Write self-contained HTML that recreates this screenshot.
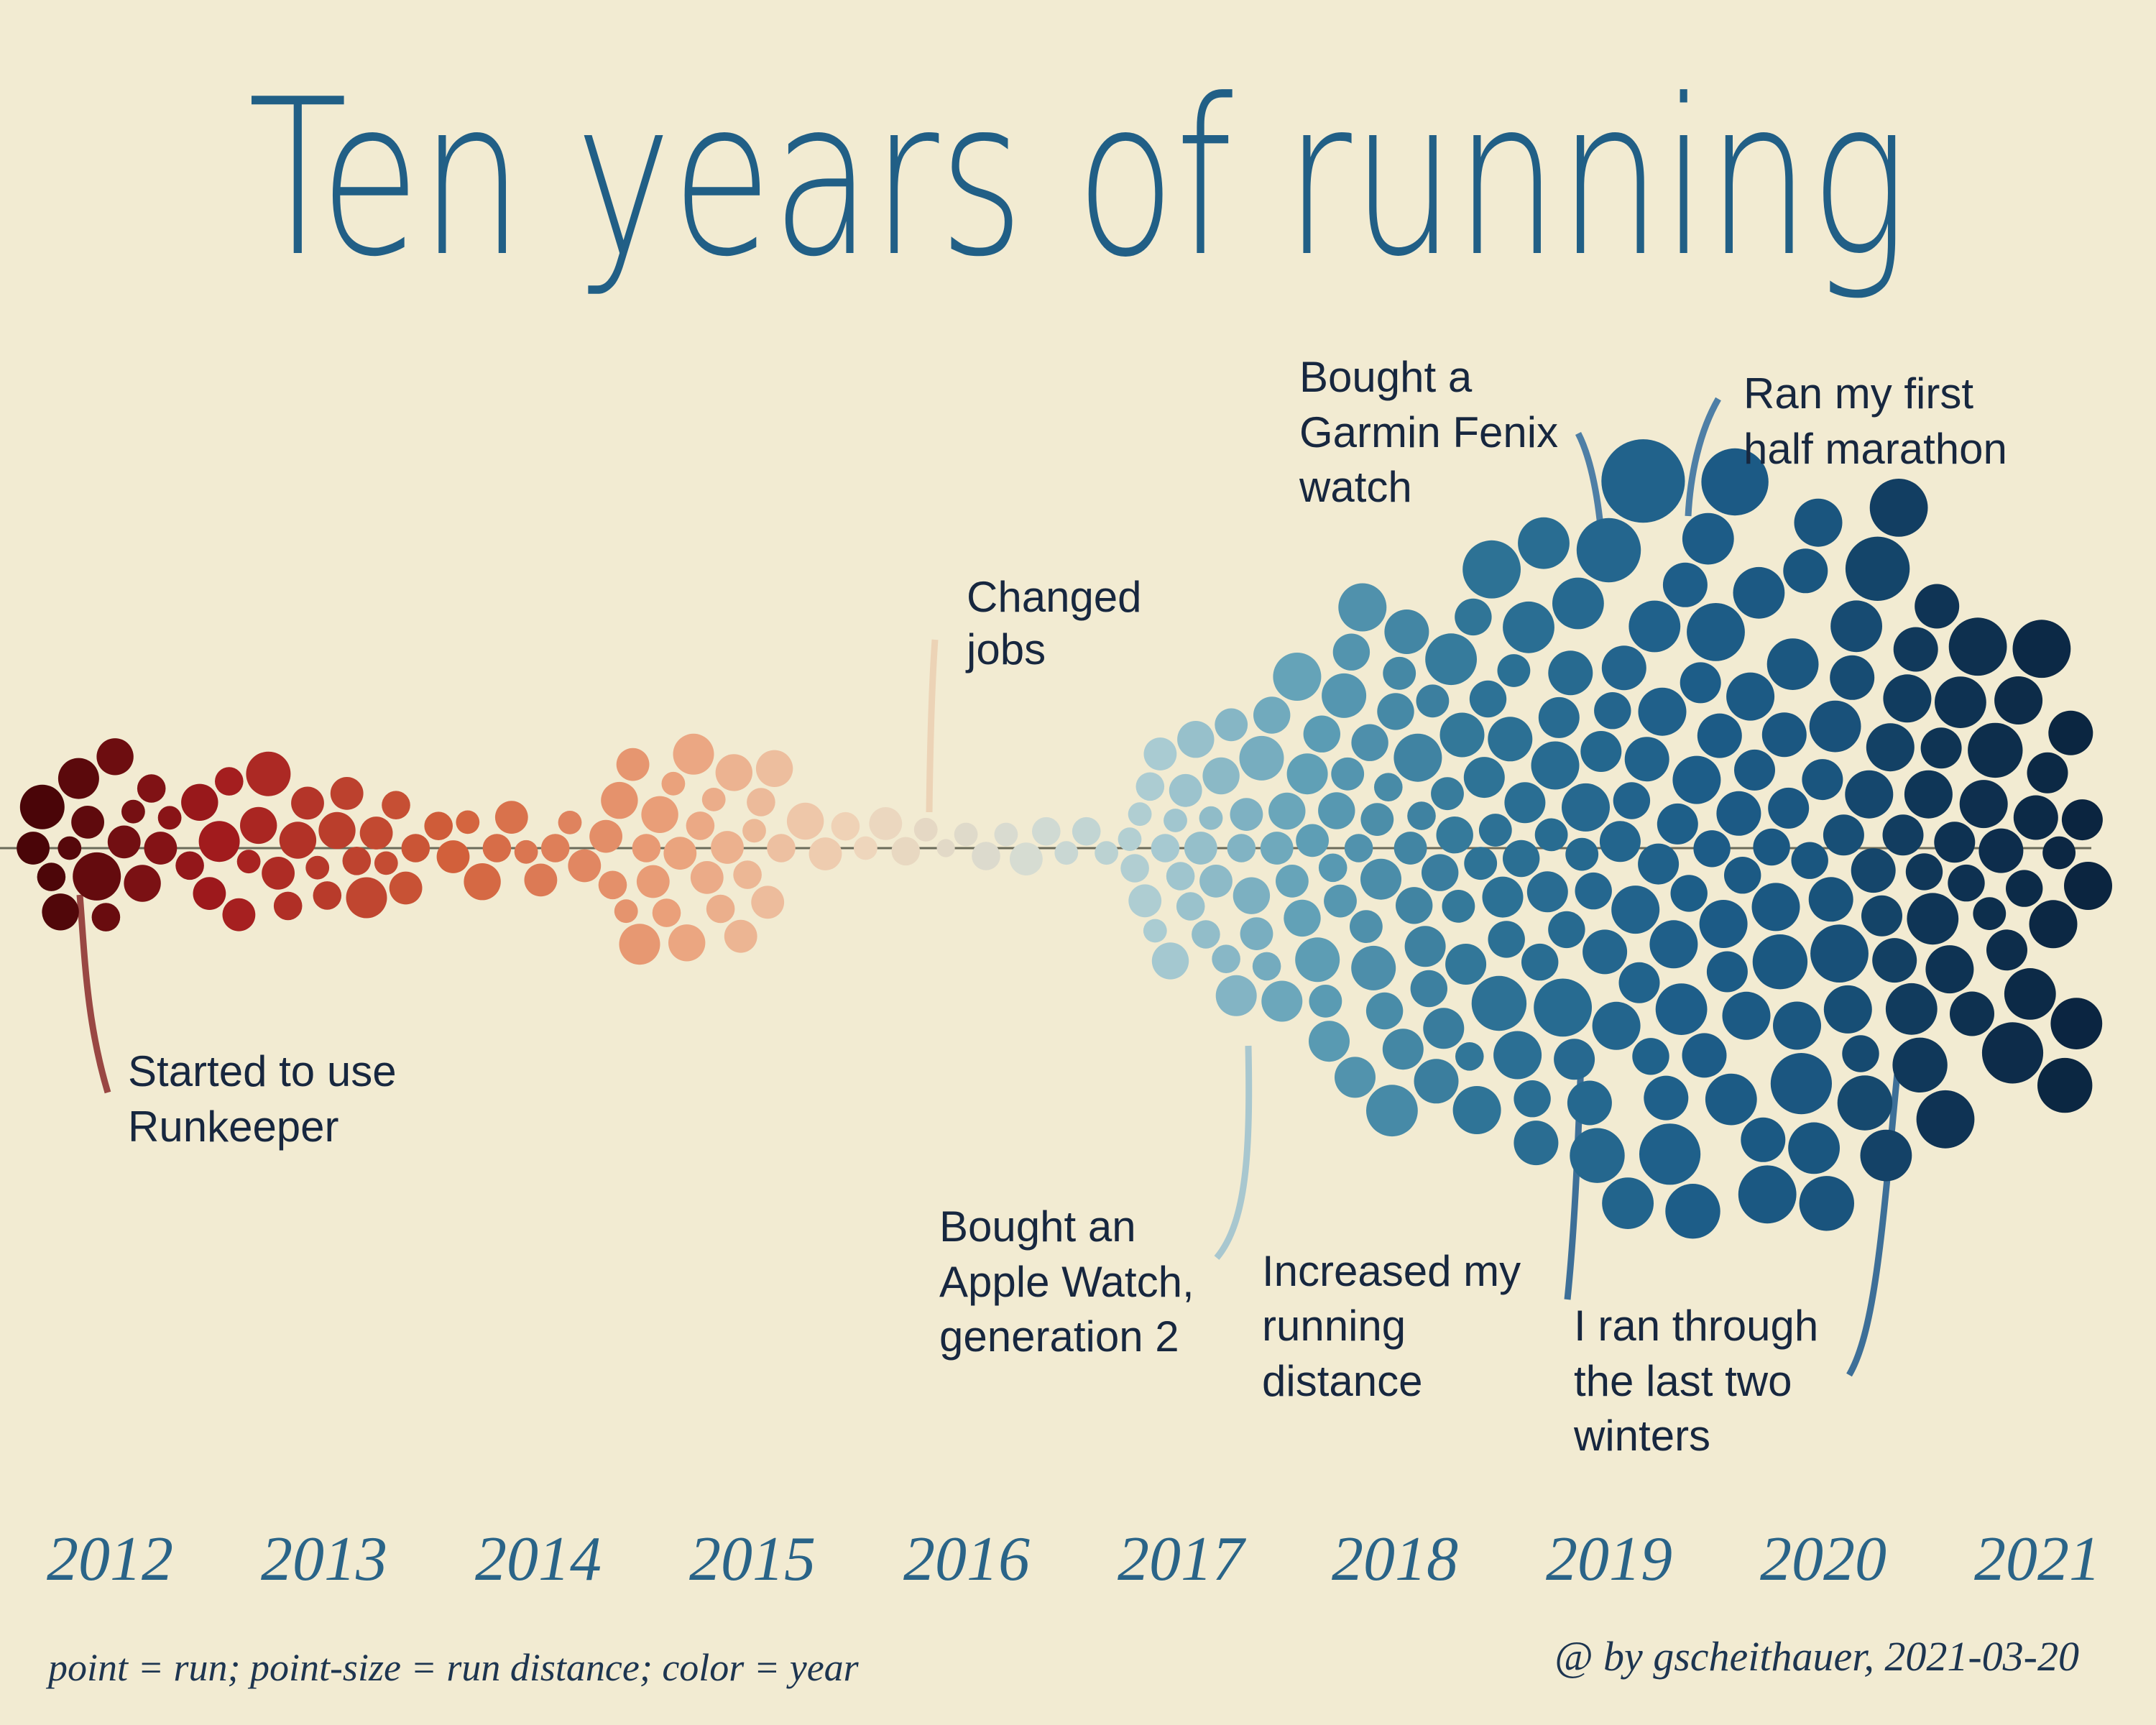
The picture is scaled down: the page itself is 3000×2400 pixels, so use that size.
<!DOCTYPE html>
<html><head><meta charset="utf-8">
<style>
html,body{margin:0;padding:0;background:#f2ebd2;}
svg{display:block;}
.ann{font-family:"Liberation Sans","DejaVu Sans",sans-serif;font-size:60px;fill:#17273f;}
.yr{font-family:"Liberation Serif",serif;font-style:italic;font-size:88px;fill:#2a6488;}
.ft{font-family:"Liberation Serif",serif;font-style:italic;fill:#1d3550;}
</style></head>
<body>
<svg id="chart" width="3000" height="2400" viewBox="0 0 3000 2400" xmlns="http://www.w3.org/2000/svg">
<rect width="3000" height="2400" fill="#f2ebd2"/>
<text x="1500" y="352" text-anchor="middle" textLength="2310" lengthAdjust="spacingAndGlyphs" font-family="DejaVu Sans, Liberation Sans, sans-serif" font-weight="300" font-size="300" fill="#215f86">Ten years of running</text>
<line x1="0" y1="1180" x2="2910" y2="1180" stroke="#6b6b5a" stroke-width="3"/>
<g id="lines">
<path d="M111 1245 C118 1330 120 1420 150 1520" stroke="#8a2a2a" stroke-width="9" fill="none" opacity="0.85"/>
<path d="M1301 890 C1296 960 1294 1050 1293 1130" stroke="#ecd3b6" stroke-width="9" fill="none"/>
<path d="M2196 603 C2215 640 2225 700 2229 755" stroke="#4e7fa6" stroke-width="9" fill="none"/>
<path d="M2391 555 C2365 600 2352 660 2349 718" stroke="#4e7fa6" stroke-width="9" fill="none"/>
<path d="M1693 1750 C1735 1700 1740 1600 1737 1455" stroke="#a8c7cf" stroke-width="9" fill="none"/>
<path d="M2181 1808 C2190 1720 2195 1620 2200 1475" stroke="#3d6f98" stroke-width="9" fill="none"/>
<path d="M2573 1913 C2610 1850 2620 1700 2640 1493" stroke="#3d6f98" stroke-width="9" fill="none"/>
</g>
<g id="dots"></g>
<g>
<text class="ann" x="178" y="1511"><tspan x="178">Started to use</tspan><tspan x="178" dy="77">Runkeeper</tspan></text>
<text class="ann" x="1345" y="851"><tspan x="1345">Changed</tspan><tspan x="1345" dy="73">jobs</tspan></text>
<text class="ann" x="1808" y="545"><tspan x="1808">Bought a</tspan><tspan x="1808" dy="77">Garmin Fenix</tspan><tspan x="1808" dy="76">watch</tspan></text>
<text class="ann" x="2426" y="568"><tspan x="2426">Ran my first</tspan><tspan x="2426" dy="77">half marathon</tspan></text>
<text class="ann" x="1307" y="1727"><tspan x="1307">Bought an</tspan><tspan x="1307" dy="77">Apple Watch,</tspan><tspan x="1307" dy="76">generation 2</tspan></text>
<text class="ann" x="1756" y="1789"><tspan x="1756">Increased my</tspan><tspan x="1756" dy="76">running</tspan><tspan x="1756" dy="77">distance</tspan></text>
<text class="ann" x="2190" y="1865"><tspan x="2190">I ran through</tspan><tspan x="2190" dy="77">the last two</tspan><tspan x="2190" dy="76">winters</tspan></text>
</g>
<g id="years"></g>
<text class="ft" x="67" y="2338" font-size="54">point = run; point-size = run distance; color = year</text>
<text class="ft" x="2893" y="2324" font-size="58" text-anchor="end">@ by gscheithauer, 2021-03-20</text>
</svg>
<script>
const yearLabels = [2012,2013,2014,2015,2016,2017,2018,2019,2020,2021];
const segStart = [2011.62,2012.35,2013.5,2014.3,2015.2,2016.75,2017.65,2018.65,2019.65,2020.6];
const segEnd   = [2012.3,2013.45,2014.25,2015.15,2016.7,2017.65,2018.65,2019.65,2020.6,2021.25];
const km2012 = [5,8,4,6,3,7,5,9,4,6,5,3,6,4,5,3];
const km2013 = [4,6,5,7,4,5,3,6,8,5,4,6,5,3,4,6,5,4,7,5,3,4,5,4];
const km2014 = [4,5,3,6,4,5,3,5,4,3,5];
const km2015 = [5,4,6,3,5,7,4,5,6,4,3,5,6,7,4,5,3,4,5,6,5,4,3,4,5,6,4];
const km2016 = [6,5,4,3,5,4,3,2,3,4,3,5,4,3,4,3];
const km2017 = [3,4,3,5,4,3,5,4,6,3,4,5,4,6,5,4,3,5,6,4,5,7,4,5,6,5,8,4,6,5,7,6,5,9,6,7,5,8];
const km2018 = [6,5,7,4,6,5,8,5,6,7,4,9,5,6,8,5,7,6,4,10,6,5,7,8,5,6,9,4,7,6,5,8,6,7,5,10,6,5,8,7,4,6,9,5,7,6,12,5,11,7,6,8,5,9,6,7,10,6];
const km2019 = [8,6,10,7,5,9,7,12,6,8,7,10,5,9,8,6,11,7,8,14,6,9,7,8,10,6,9,7,21,8,6,10,7,9,8,13,9,7,10,8,6,11,9,7,8,10,6,12,8,9,7,10,15,8,6,9];
const km2020 = [9,7,10,8,12,6,9,11,8,7,10,9,13,8,6,10,9,7,11,8,10,12,7,9,8,10,6,11,9,8,14,7,10,9,8,12,7,9,10,8,11,6,9,10,8,7,12,9];
const km2021 = [7,10,6,8,12,9,5,11,8,7,13,9,6,10,8,12,7,9,5,11,8,10,7,9];
const segments = [km2012,km2013,km2014,km2015,km2016,km2017,km2018,km2019,km2020,km2021];
const colorT = [2011.7,2012.5,2013.6,2014.6,2015.5,2016.3,2016.9,2017.6,2018.4,2019.4,2020.0,2020.5,2021.2];
const colorC = ["#4a0508","#a11a1d","#d2603b","#eaa07a","#efd6bb","#d5dcd3","#a9cbd2","#5f9fb6","#2e7396","#1d5d88","#1a557e","#0f3556","#0b2540"];

const S = 1.913, CY = 1180;
const xScale = t => 153 + (t - 2012) * 298;
const rScale = d => S * 4.2 * Math.pow(d, 0.65);
function hex(c){return [1,3,5].map(i=>parseInt(c.substr(i,2),16));}
function color(t){
  if (t<=colorT[0]) return colorC[0];
  for (let i=1;i<colorT.length;i++){
    if (t<=colorT[i]){const f=(t-colorT[i-1])/(colorT[i]-colorT[i-1]);const a=hex(colorC[i-1]),b=hex(colorC[i]);
      return "rgb("+a.map((v,k)=>Math.round(v+(b[k]-v)*f)).join(",")+")";}
  }
  return colorC[colorC.length-1];
}
const runs = [];
segments.forEach((arr, s) => {
  arr.forEach((d, i) => {
    const t = segStart[s] + (i + 0.5) / arr.length * (segEnd[s] - segStart[s]);
    runs.push({t: t, d: d});
  });
});
const pad = 2.5 * S;
const placed = [];
runs.forEach(run => {
  const x = xScale(run.t), r = rScale(run.d);
  const cands = [0];
  const near = placed.filter(p => Math.abs(p.x - x) < p.r + r + pad);
  near.forEach(p => {
    const rr = p.r + r + pad, dx = p.x - x;
    const h = Math.sqrt(Math.max(0, rr*rr - dx*dx));
    cands.push(p.y - h - 0.01, p.y + h + 0.01);
  });
  cands.sort((a,b)=>Math.abs(a)-Math.abs(b));
  let y = 0;
  for (const c of cands) {
    if (near.every(p => { const rr=p.r+r+pad; return (p.x-x)**2+(p.y-c)**2 >= rr*rr - 0.5; })) { y = c; break; }
  }
  placed.push({x:x, y:y, r:r, t:run.t});
});
const g = document.getElementById('dots');
const NS = "http://www.w3.org/2000/svg";
placed.forEach(p => {
  const c = document.createElementNS(NS, 'circle');
  c.setAttribute('cx', p.x.toFixed(1));
  c.setAttribute('cy', (CY + p.y).toFixed(1));
  c.setAttribute('r', p.r.toFixed(1));
  c.setAttribute('fill', color(p.t));
  
  
  g.appendChild(c);
});
const yg = document.getElementById('years');
yearLabels.forEach(y => {
  const tx = document.createElementNS(NS, 'text');
  tx.setAttribute('x', xScale(y));
  tx.setAttribute('y', 2198);
  tx.setAttribute('text-anchor', 'middle');
  tx.setAttribute('class', 'yr');
  tx.textContent = y;
  
  
  yg.appendChild(tx);
});
</script>
</body></html>
